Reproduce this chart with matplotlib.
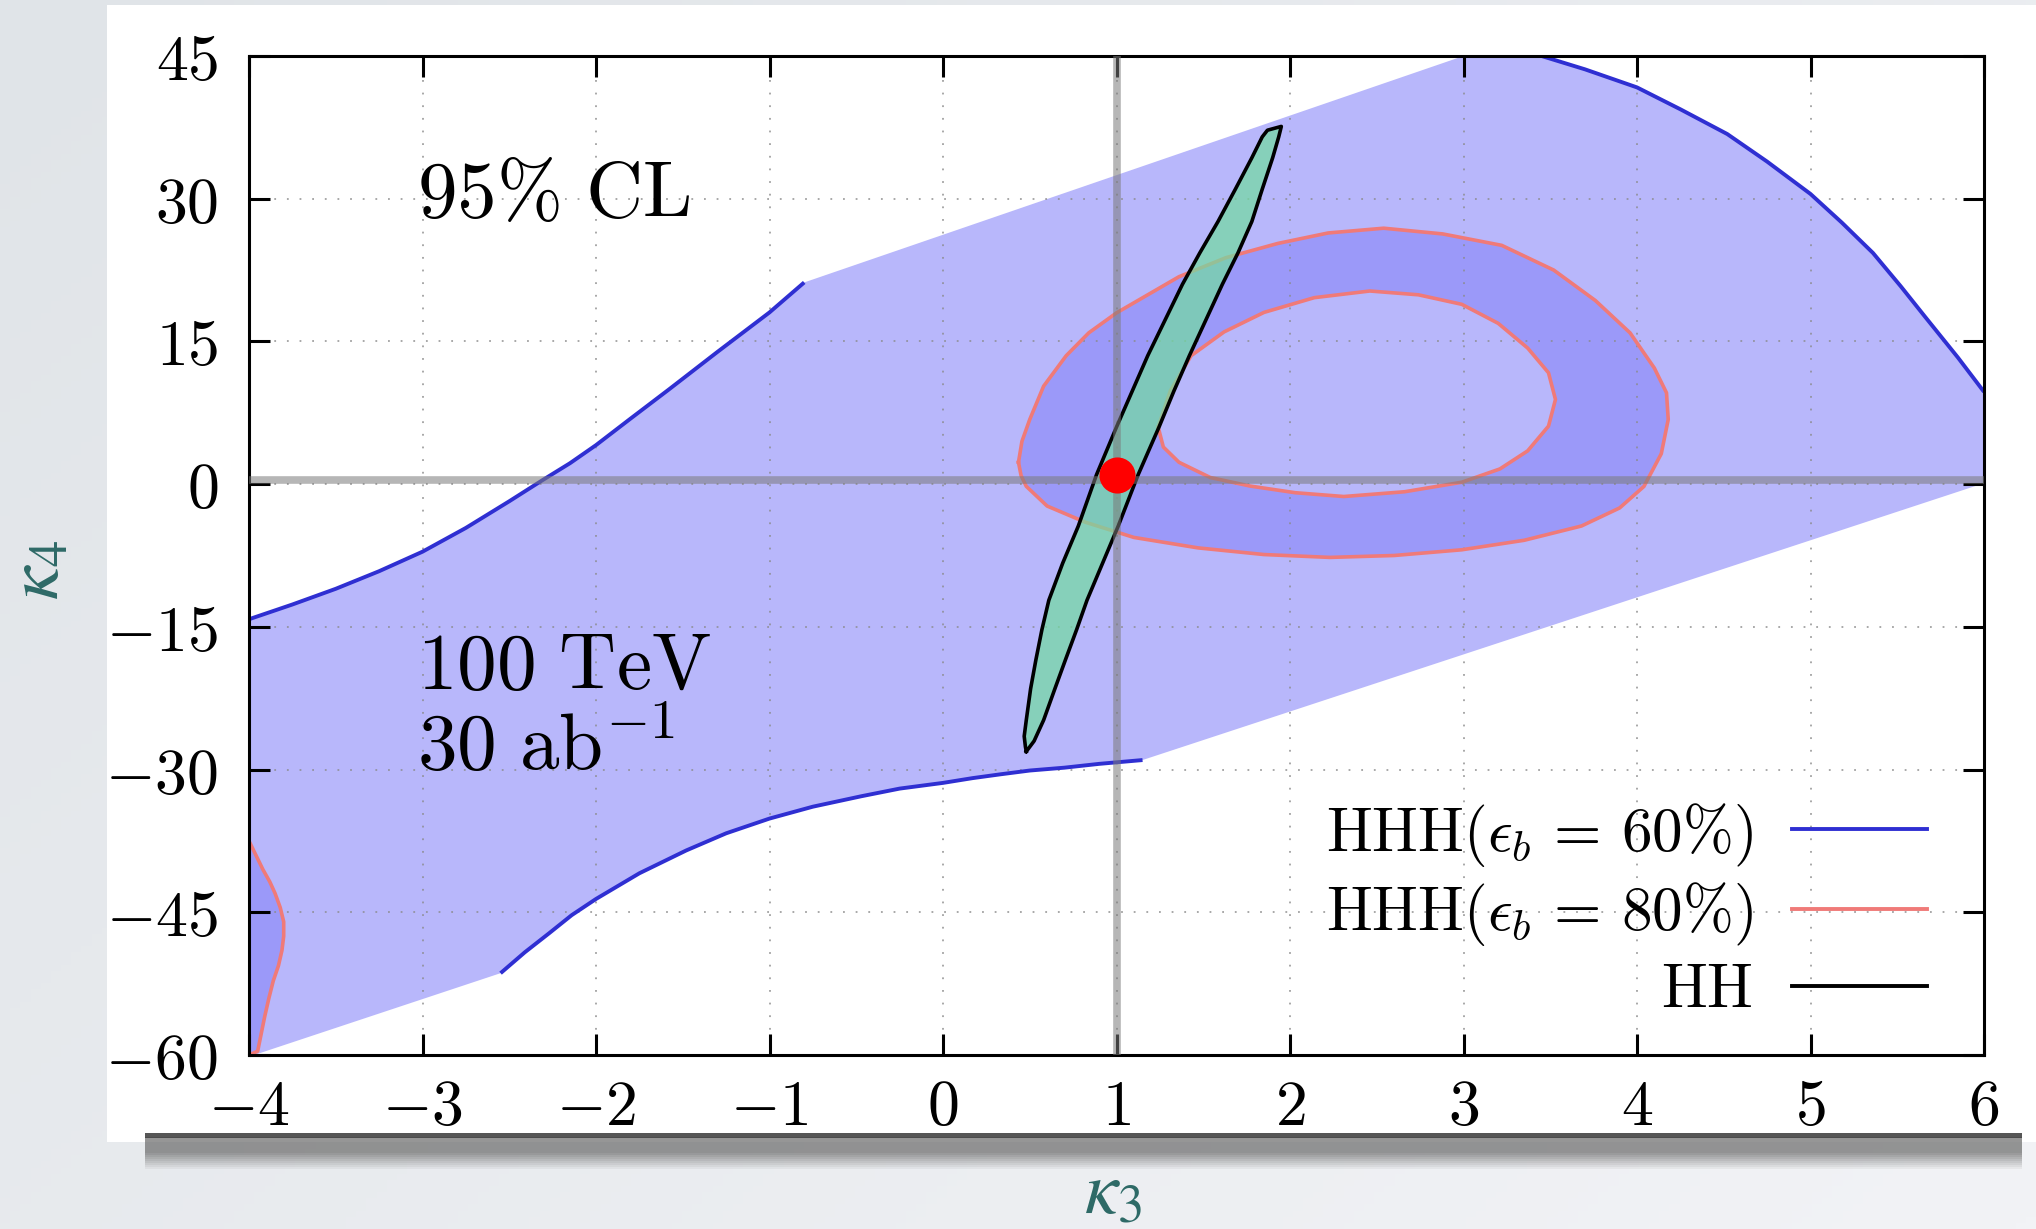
import numpy as np
import matplotlib
matplotlib.use("Agg")
import matplotlib.pyplot as plt
from matplotlib.patches import Rectangle
from matplotlib.lines import Line2D
from matplotlib.colors import LinearSegmentedColormap

plt.rcParams['mathtext.fontset'] = 'cm'
plt.rcParams['font.family'] = ['DejaVu Serif']

# ---------------- data ----------------
x_ticks = [-4, -3, -2, -1, 0, 1, 2, 3, 4, 5, 6]
y_ticks = [-60, -45, -30, -15, 0, 15, 30, 45]

# drawn (solid) parts of the HHH (eps_b = 60%) boundary
blue_ul_x = [-4.0, -3.75, -3.5, -3.25, -3.0, -2.75, -2.5, -2.31, -2.15, -2.0, -1.8,
             -1.58, -1.3, -1.0, -0.8]
blue_ul_y = [-14.2, -12.65, -11.0, -9.15, -7.1, -4.6, -1.8, 0.4, 2.2, 4.1, 6.9,
             9.95, 13.9, 18.05, 21.2]
blue_ur_x = [3.45, 3.7, 4.0, 4.25, 4.52, 4.75, 5.0, 5.18, 5.36, 5.52, 5.66, 5.85, 6.0]
blue_ur_y = [45.0, 43.6, 41.7, 39.4, 36.8, 33.9, 30.5, 27.5, 24.3, 20.8, 17.6, 13.3, 9.7]
blue_lo_x = [1.15, 0.9, 0.7, 0.5, 0.33, 0.17, 0.0, -0.25, -0.47, -0.75, -1.0, -1.25,
             -1.48, -1.75, -2.0, -2.14, -2.27, -2.41, -2.55]
blue_lo_y = [-29.0, -29.4, -29.8, -30.1, -30.5, -30.9, -31.4, -32.0, -32.8, -33.9, -35.15,
             -36.7, -38.5, -40.9, -43.6, -45.3, -47.2, -49.2, -51.4]
# straight (undrawn) edges of the filled 60% region
blue_corner_ll = (-4.0, -60.0)    # bottom-left corner
blue_top_hit = (3.0, 45.0)        # upper straight edge meets the top
blue_right_low = (6.0, 0.1)       # lower straight edge meets the right side
blue_bottom_hit = (-3.97, -60.0)  # lower-left straight edge meets the bottom

# HHH (eps_b = 80%) ring: outer and inner contours
red_outer_x = [0.435, 0.45, 0.48, 0.6, 0.82, 1.1, 1.47, 1.85, 2.23, 2.6, 2.99, 3.35, 3.68,
               3.9, 4.04, 4.14, 4.18, 4.17, 4.10, 3.96, 3.76, 3.52, 3.22, 2.88, 2.54,
               2.22, 1.93, 1.63, 1.36, 1.0, 0.84, 0.71, 0.58, 0.50, 0.455, 0.435]
red_outer_y = [2.3, 0.9, -0.23, -2.3, -4.0, -5.6, -6.7, -7.4, -7.7, -7.5, -6.9, -5.9, -4.4,
               -2.5, -0.24, 3.2, 6.8, 9.6, 12.2, 15.9, 19.3, 22.5, 25.1, 26.3, 26.9,
               26.4, 25.3, 23.8, 21.8, 18.0, 15.9, 13.5, 10.3, 6.8, 4.5, 2.3]
red_inner_x = [1.24, 1.27, 1.36, 1.54, 1.77, 2.03, 2.31, 2.66, 2.99, 3.21, 3.37, 3.49,
               3.53, 3.49, 3.37, 3.2, 2.99, 2.74, 2.46, 2.14, 1.85, 1.62, 1.43, 1.31, 1.24]
red_inner_y = [6.0, 3.9, 2.3, 0.7, -0.2, -0.9, -1.3, -0.8, 0.2, 1.6, 3.5, 6.1,
               8.9, 11.7, 14.3, 16.9, 18.9, 19.9, 20.3, 19.6, 18.05, 16.0, 13.5, 9.8, 6.0]
# 80% region in the lower-left corner
red_blob_x = [-4.0, -3.96, -3.92, -3.88, -3.85, -3.82, -3.80, -3.80, -3.81, -3.83,
              -3.86, -3.885, -3.91, -3.93, -3.95, -4.0]
red_blob_y = [-37.5, -39.0, -40.5, -41.8, -43.0, -44.5, -46.0, -47.5, -49.0, -50.6,
              -52.2, -54.0, -56.0, -57.8, -59.6, -60.0]

# HH contour (right edge going up, then left edge going down)
hh_x = [0.48, 0.525, 0.58, 0.645, 0.705, 0.77, 0.83, 0.92, 1.01, 1.125, 1.245, 1.33, 1.42,
        1.515, 1.61, 1.70, 1.78, 1.84, 1.90, 1.935, 1.95,
        1.87, 1.84, 1.78, 1.685, 1.585, 1.48, 1.38, 1.28, 1.18, 1.09, 1.0, 0.885, 0.78,
        0.69, 0.61, 0.57, 0.535, 0.505, 0.48, 0.468, 0.475, 0.48]
hh_y = [-28.1, -27.0, -24.8, -21.5, -18.5, -15.3, -12.2, -8.3, -4.4, 1.0, 6.0, 9.75, 13.5,
        17.25, 21.0, 24.3, 27.6, 31.0, 34.3, 36.5, 37.6,
        37.2, 36.5, 34.3, 31.0, 27.6, 24.3, 21.0, 17.25, 13.5, 9.75, 6.0, 1.0, -4.4,
        -8.3, -12.2, -15.3, -18.5, -21.5, -24.8, -26.5, -27.6, -28.1]

sm_x = [1.0]
sm_y = [1.0]
ref_k3 = 1.0
ref_k4 = 0.45

legend_labels = [r'$\mathrm{HHH}(\epsilon_b\,=\,60\%)$',
                 r'$\mathrm{HHH}(\epsilon_b\,=\,80\%)$',
                 r'$\mathrm{HH}$']

# ---------------- colours ----------------
c_blue_fill = '#b8b7fb'
c_ring_fill = '#9b99f9'
c_blue_line = '#2f2fd2'
c_red_line = '#f07a78'
c_green = '#73dba2'
c_label = '#2e6a67'

W, H = 2036, 1229
fig = plt.figure(figsize=(W / 100, H / 100), dpi=100)

# ---------------- slide background ----------------
bg = fig.add_axes([0, 0, 1, 1], zorder=-10)
bg.set_xlim(0, W)
bg.set_ylim(H, 0)
bg.axis('off')
gx, gy = np.meshgrid(np.linspace(0, 1, 200), np.linspace(0, 1, 200))
cm_bg = LinearSegmentedColormap.from_list('bg', ['#e0e4e8', '#f2f3f6'])
bg.imshow(0.6 * gx + 0.4 * gy, cmap=cm_bg, extent=[0, W, H, 0], aspect='auto', zorder=0)
bg.add_patch(Rectangle((107, 5), W - 107, 1137, facecolor='white', edgecolor='none', zorder=1))
# shadow under the panel
n_sh = 16
for i in range(n_sh):
    t = i / n_sh
    a = 0.72 if t < 0.45 else 0.72 * (1 - (t - 0.45) / 0.55)
    bg.add_patch(Rectangle((145, 1137 + 2.0 * i), 1877, 2.2,
                           facecolor='#6e6e6e', edgecolor='none', alpha=a, zorder=2))
bg.add_patch(Rectangle((145, 1133), 1877, 5, facecolor='#444444', edgecolor='none',
                       alpha=0.9, zorder=3))

# ---------------- main axes ----------------
ax = fig.add_axes([249 / W, 1 - 1055 / H, (1984 - 249) / W, (1055 - 56) / H])
ax.set_xlim(-4, 6)
ax.set_ylim(-60, 45)
ax.set_facecolor('white')

blue_region_x = ([blue_corner_ll[0]] + blue_ul_x + [blue_top_hit[0]] + blue_ur_x +
                 [blue_right_low[0]] + blue_lo_x + [blue_bottom_hit[0]])
blue_region_y = ([blue_corner_ll[1]] + blue_ul_y + [blue_top_hit[1]] + blue_ur_y +
                 [blue_right_low[1]] + blue_lo_y + [blue_bottom_hit[1]])

ax.fill(blue_region_x, blue_region_y, color=c_blue_fill, lw=0, zorder=1)
ax.fill(red_outer_x, red_outer_y, color=c_ring_fill, lw=0, zorder=1.1)
ax.fill(red_inner_x, red_inner_y, color=c_blue_fill, lw=0, zorder=1.2)
ax.fill(red_blob_x, red_blob_y, color=c_ring_fill, lw=0, zorder=1.1)

ax.set_axisbelow('line')
ax.grid(True, color='#8a8a8a', lw=1.3, ls=(0, (1, 6.0)), alpha=0.8)

for xs, ys in [(blue_ul_x, blue_ul_y), (blue_ur_x, blue_ur_y), (blue_lo_x, blue_lo_y)]:
    ax.plot(xs, ys, color=c_blue_line, lw=2.8, zorder=2.2, solid_capstyle='butt',
            solid_joinstyle='round')
for xs, ys in [(red_outer_x, red_outer_y), (red_inner_x, red_inner_y), (red_blob_x, red_blob_y)]:
    ax.plot(xs, ys, color=c_red_line, lw=2.6, zorder=2.0, solid_joinstyle='round')

ax.fill(hh_x, hh_y, color=c_green, alpha=0.72, lw=0, zorder=2.3)
ax.plot(hh_x, hh_y, color='black', lw=2.6, zorder=2.4, solid_joinstyle='round')

ax.axvline(ref_k3, color='#7a7a7a', alpha=0.55, lw=5.5, zorder=2.6)
ax.axhline(ref_k4, color='#7a7a7a', alpha=0.55, lw=5.5, zorder=2.6)
ax.plot(sm_x, sm_y, 'o', ms=26, color='#ff0000', mec='none', zorder=3)

ax.set_xticks(x_ticks)
ax.set_yticks(y_ticks)
ax.set_xticklabels([f'${v}$' for v in x_ticks])
ax.set_yticklabels([f'${v}$' for v in y_ticks])
ax.tick_params(direction='in', top=True, right=True, length=15, width=2.2,
               labelsize=46, colors='black')
ax.tick_params(axis='x', pad=16)
ax.tick_params(axis='y', pad=22)
for s in ax.spines.values():
    s.set_linewidth(2.2)

ax.text(-3.03, 28.1, r'$95\%\ \mathrm{CL}$', fontsize=57, va='baseline', ha='left', zorder=4)
ax.text(-3.03, -21.5, r'$100\ \mathrm{TeV}$', fontsize=57, va='baseline', ha='left', zorder=4)
ax.text(-3.03, -30.05, r'$30\ \mathrm{ab}^{-1}$', fontsize=57, va='baseline', ha='left', zorder=4)

handles = [Line2D([], [], color=c_blue_line, lw=2.8),
           Line2D([], [], color=c_red_line, lw=2.8),
           Line2D([], [], color='black', lw=2.8)]
ax.legend(handles, legend_labels, loc='lower right', bbox_to_anchor=(0.967, 0.035),
          frameon=False, markerfirst=False, fontsize=44, handlelength=2.2,
          handletextpad=0.65, labelspacing=0.19, borderpad=0, borderaxespad=0)

fig.text(1113 / W, 1 - 1193 / H, r'$\kappa_3$', fontsize=54, color=c_label,
         ha='center', va='center', math_fontfamily='stix')
fig.text(38 / W, 1 - 570 / H, r'$\kappa_4$', fontsize=54, color=c_label, rotation=90,
         ha='center', va='center', math_fontfamily='stix')

fig.savefig('out.png', dpi=100)
